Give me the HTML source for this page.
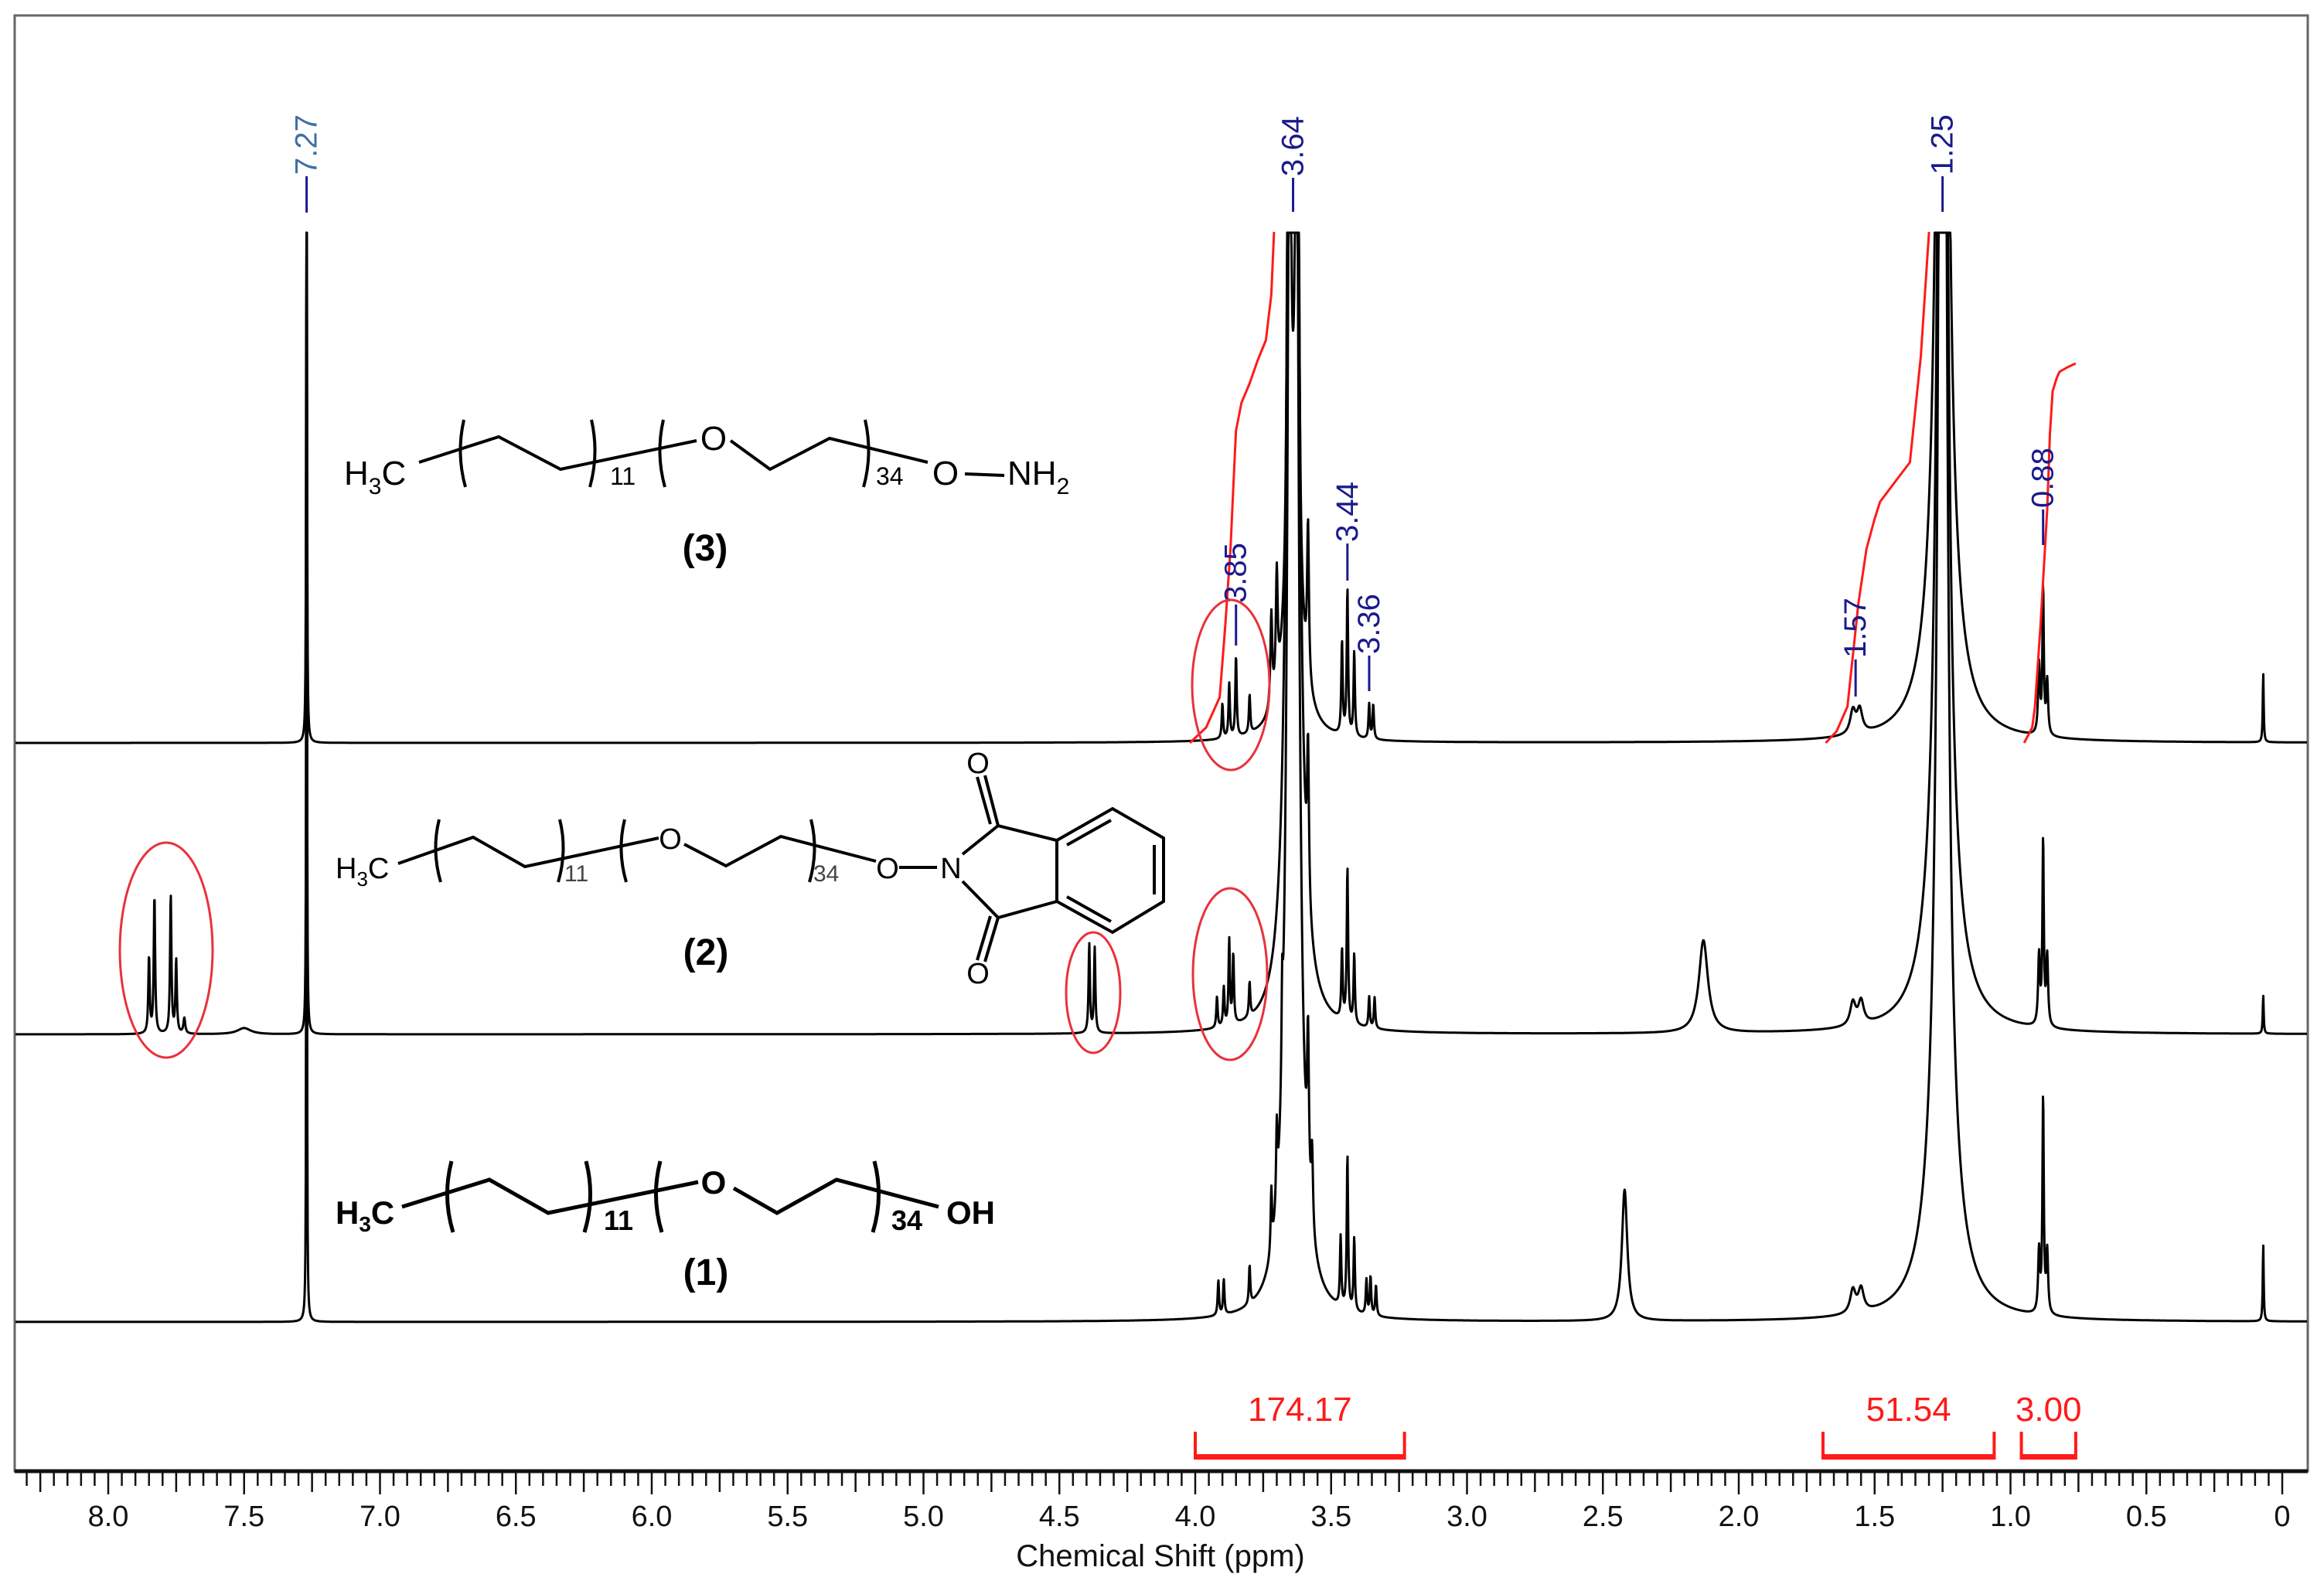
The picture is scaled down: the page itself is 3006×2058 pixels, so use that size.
<!DOCTYPE html>
<html><head><meta charset="utf-8">
<style>
html,body{margin:0;padding:0;background:#fff;}
svg{display:block;font-family:"Liberation Sans",sans-serif;}
</style></head>
<body>
<svg id="chart" xmlns="http://www.w3.org/2000/svg" width="3006" height="2058" viewBox="0 0 3006 2058">
<rect x="0" y="0" width="3006" height="2058" fill="#fff"/>
<rect x="19" y="20" width="2966" height="1883" fill="none" stroke="#666" stroke-width="3"/>
<g id="ticks"></g>
<g id="spectra"></g>
<g id="integrals"></g>
<g id="labels"></g>
<g id="brackets"></g>

<g fill="none" stroke="#e8323c" stroke-width="3">
<ellipse cx="1592" cy="886" rx="50" ry="110"/>
<ellipse cx="1591" cy="1260" rx="48" ry="111"/>
<ellipse cx="215" cy="1229" rx="60" ry="139"/>
<ellipse cx="1414" cy="1284" rx="35" ry="78"/>
</g>

<!-- structure 3 -->
<g fill="none" stroke="#000" stroke-width="4">
<polyline points="542,598 645,565 725,607 901,570"/>
<polyline points="945,570 996,607 1073,567 1200,598"/>
<line x1="1248" y1="613" x2="1299" y2="615"/>
<path d="M600,543 Q590,587 602,630"/><path d="M765,543 Q775,587 763,630"/>
<path d="M858,543 Q848,587 860,630"/><path d="M1119,543 Q1129,587 1117,630"/>
</g>
<g font-size="44" fill="#000">
<text x="445" y="627">H<tspan font-size="30" dy="12">3</tspan><tspan dy="-12">C</tspan></text>
<text x="789" y="627" font-size="32">11</text>
<text x="923" y="582" text-anchor="middle">O</text>
<text x="1133" y="627" font-size="32">34</text>
<text x="1223" y="627" text-anchor="middle">O</text>
<text x="1303" y="627">NH<tspan font-size="30" dy="12">2</tspan></text>
<text x="912" y="725" text-anchor="middle" font-weight="bold" font-size="48">(3)</text>
</g>

<!-- structure 2 -->
<g fill="none" stroke="#000" stroke-width="4">
<polyline points="515,1117 612,1083 679,1121 852,1084"/>
<polyline points="885,1092 939,1120 1010,1082 1133,1114"/>
<line x1="1163" y1="1122" x2="1212" y2="1122"/>
<polyline points="1245,1105 1291,1068 1367,1087 1367,1166 1291,1187 1245,1140"/>
<line x1="1291" y1="1068" x2="1274" y2="1003"/><line x1="1281" y1="1066" x2="1264" y2="1005"/>
<line x1="1291" y1="1187" x2="1274" y2="1244"/><line x1="1281" y1="1185" x2="1264" y2="1242"/>
<polygon points="1367,1087 1439,1046 1505,1084 1505,1166 1439,1206 1367,1166"/>
<line x1="1380" y1="1093" x2="1437" y2="1061"/><line x1="1493" y1="1093" x2="1493" y2="1157"/><line x1="1380" y1="1160" x2="1437" y2="1192"/>
<path d="M568,1060 Q558,1100 570,1141"/><path d="M724,1060 Q734,1100 722,1141"/>
<path d="M808,1060 Q798,1100 810,1141"/><path d="M1049,1060 Q1059,1100 1047,1141"/>
</g>
<g font-size="38" fill="#000">
<text x="434" y="1136">H<tspan font-size="26" dy="10">3</tspan><tspan dy="-10">C</tspan></text>
<text x="730" y="1140" font-size="30" fill="#444">11</text>
<text x="867" y="1098" text-anchor="middle">O</text>
<text x="1052" y="1140" font-size="30" fill="#444">34</text>
<text x="1148" y="1136" text-anchor="middle">O</text>
<text x="1230" y="1136" text-anchor="middle">N</text>
<text x="1265" y="1000" text-anchor="middle">O</text>
<text x="1265" y="1272" text-anchor="middle">O</text>
<text x="913" y="1248" text-anchor="middle" font-weight="bold" font-size="48">(2)</text>
</g>

<!-- structure 1 -->
<g fill="none" stroke="#000" stroke-width="5">
<polyline points="520,1561 633,1526 709,1569 903,1529"/>
<polyline points="949,1537 1005,1569 1082,1526 1214,1561"/>
<path d="M584,1502 Q572,1548 586,1594"/><path d="M758,1502 Q770,1548 756,1594"/>
<path d="M854,1502 Q842,1548 856,1594"/><path d="M1131,1502 Q1143,1548 1129,1594"/>
</g>
<g font-size="42" font-weight="bold" fill="#000">
<text x="434" y="1583">H<tspan font-size="28" dy="10">3</tspan><tspan dy="-10">C</tspan></text>
<text x="781" y="1591" font-size="36">11</text>
<text x="923" y="1544" text-anchor="middle">O</text>
<text x="1153" y="1591" font-size="36">34</text>
<text x="1224" y="1583">OH</text>
<text x="913" y="1662" text-anchor="middle" font-size="48">(1)</text>
</g>

<text x="1501" y="2026" text-anchor="middle" font-size="40" fill="#111">Chemical Shift (ppm)</text>

<script>
// ---- data ----
const tickLabels = ["8.0","7.5","7.0","6.5","6.0","5.5","5.0","4.5","4.0","3.5","3.0","2.5","2.0","1.5","1.0","0.5","0"];
const tickValues = [8.0,7.5,7.0,6.5,6.0,5.5,5.0,4.5,4.0,3.5,3.0,2.5,2.0,1.5,1.0,0.5,0];

const s1Ppm = [7.27,3.915,3.895,3.80,3.72,3.70,3.68,3.64,3.585,3.57,3.465,3.44,3.415,3.37,3.355,3.335,2.42,1.58,1.55,1.25,1.25,0.895,0.88,0.865,0.07];
const s1Int = [3000,45,45,50,80,100,120,5000,200,100,90,200,95,45,50,40,170,30,30,3000,300,80,280,80,100];
const s1Wid = [0.0008,0.003,0.003,0.003,0.003,0.003,0.003,0.011,0.004,0.004,0.003,0.003,0.003,0.003,0.003,0.003,0.012,0.012,0.012,0.012,0.05,0.004,0.003,0.004,0.002];

const s2Ppm = [7.85,7.83,7.77,7.75,7.72,7.5,7.27,4.39,4.37,3.92,3.895,3.875,3.86,3.80,3.64,3.585,3.46,3.44,3.415,3.36,3.34,2.13,1.58,1.55,1.25,1.25,0.895,0.88,0.865,0.07];
const s2Int = [100,180,180,95,20,8,3000,115,110,40,50,110,90,45,5000,200,90,200,90,40,40,120,30,30,3000,300,90,240,90,50];
const s2Wid = [0.003,0.003,0.003,0.003,0.004,0.03,0.0008,0.003,0.003,0.003,0.003,0.003,0.003,0.003,0.011,0.004,0.003,0.003,0.003,0.003,0.003,0.02,0.012,0.012,0.012,0.05,0.004,0.003,0.004,0.002];

const s3Ppm = [7.27,3.90,3.875,3.85,3.80,3.72,3.70,3.655,3.625,3.64,3.585,3.46,3.44,3.415,3.36,3.345,1.58,1.555,1.25,1.25,0.895,0.88,0.865,0.07];
const s3Int = [3000,45,70,105,50,120,150,3000,3000,300,200,120,190,110,45,45,30,30,3000,300,90,190,70,90];
const s3Wid = [0.0008,0.003,0.003,0.003,0.003,0.004,0.004,0.003,0.003,0.03,0.004,0.003,0.003,0.003,0.003,0.003,0.012,0.012,0.012,0.05,0.004,0.003,0.004,0.002];

const int1Ppm = [4.02,3.96,3.91,3.89,3.87,3.86,3.85,3.83,3.80,3.77,3.74,3.72,3.71];
const int1Val = [0,20,59,150,253,330,404,440,465,495,521,580,661];
const int2Ppm = [1.68,1.64,1.60,1.56,1.53,1.50,1.48,1.42,1.37,1.33,1.30];
const int2Val = [0,15,47,180,251,290,312,340,363,500,661];
const int3Ppm = [0.95,0.92,0.91,0.89,0.875,0.865,0.855,0.845,0.83,0.82,0.79,0.76];
const int3Val = [0,20,47,150,240,302,400,455,472,480,486,491];

const bracketStart = [4.00,1.69,0.96];
const bracketEnd = [3.23,1.06,0.76];
const bracketLabels = ["174.17","51.54","3.00"];

const peakLabelPpm = [7.27,3.64,1.25,3.85,3.44,3.36,1.57,0.88];
const peakLabelText = ["7.27","3.64","1.25","3.85","3.44","3.36","1.57","0.88"];

// ---- axis / layout ----
const X0 = 2952, PX = 351.5;
const x = p => X0 - PX * p;
const TOP = 301, AXIS_Y = 1903;
const NS = "http://www.w3.org/2000/svg";
function mk(tag, attrs, parent){ const e = document.createElementNS(NS, tag); for (const k in attrs) e.setAttribute(k, attrs[k]); parent.appendChild(e); return e; }

const tg = document.getElementById('ticks');
const axl = mk('line', {x1:19, y1:AXIS_Y, x2:2985, y2:AXIS_Y, stroke:'#111', 'stroke-width':5}, tg);


for (let k = 0; k <= 166; k++) {
  const p = k * 0.05;
  const xx = x(p);
  if (xx < 20) continue;
  const len = (k % 10 === 0) ? 30 : (k % 5 === 0 ? 27 : 19);
  const t = mk('line', {x1:xx, y1:AXIS_Y, x2:xx, y2:AXIS_Y + len, stroke:'#111', 'stroke-width':2.5}, tg);
  
  
}
tickValues.forEach((v, i) => {
  const t = mk('text', {x:x(v), y:1974, 'text-anchor':'middle', 'font-size':38, fill:'#111'}, tg);
  t.textContent = tickLabels[i];
  
  
});

function spectrumPath(ppm, inten, wid, base){
  let d = '';
  for (let xx = 20; xx <= 2984; xx += 0.5) {
    const p = (X0 - xx) / PX;
    let I = 0;
    for (let i = 0; i < ppm.length; i++) { const dd = p - ppm[i]; const w = wid[i]; I += inten[i] * w * w / (dd * dd + w * w); }
    let y = base - I;
    if (y < TOP) y = TOP;
    d += (d ? 'L' : 'M') + xx.toFixed(1) + ',' + y.toFixed(1);
  }
  return d;
}
const sg = document.getElementById('spectra');
[[s1Ppm,s1Int,s1Wid,1710,'spectrum-1'],[s2Ppm,s2Int,s2Wid,1338,'spectrum-2'],[s3Ppm,s3Int,s3Wid,961,'spectrum-3']].forEach(s => {
  const p = mk('path', {d:spectrumPath(s[0],s[1],s[2],s[3]), fill:'none', stroke:'#000', 'stroke-width':3, 'stroke-linejoin':'round'}, sg);
  
  
});

const ig = document.getElementById('integrals');
[[int1Ppm,int1Val,'integral-curve-1'],[int2Ppm,int2Val,'integral-curve-2'],[int3Ppm,int3Val,'integral-curve-3']].forEach(c => {
  const pts = c[0].map((p, i) => x(p).toFixed(1) + ',' + (961 - c[1][i]).toFixed(1)).join(' ');
  const pl = mk('polyline', {points:pts, fill:'none', stroke:'#ff1a1a', 'stroke-width':3, 'stroke-linejoin':'round'}, ig);
  
  
});

const bg = document.getElementById('brackets');
bracketStart.forEach((s, i) => {
  const a = x(s), b = x(bracketEnd[i]);
  const p = mk('path', {d:`M${a},1852 L${a},1886 L${b},1886 L${b},1852 M${a},1883 L${b},1883`, fill:'none', stroke:'#ff1a1a', 'stroke-width':4}, bg);
  
  
  const t = mk('text', {x:(a + b) / 2, y:1838, 'text-anchor':'middle', 'font-size':44, fill:'#ff1a1a'}, bg);
  t.textContent = bracketLabels[i];
  
  
});

const labelLineBottom = [275,274,274,835,751,894,901,705];
const labelLineTop = [228,230,228,782,703,848,853,659];
const lg = document.getElementById('labels');
peakLabelPpm.forEach((p, i) => {
  const xx = x(p);
  const col = i === 0 ? '#3f6fa6' : '#1a1a8c';
  const l = mk('line', {x1:xx, y1:labelLineBottom[i], x2:xx, y2:labelLineTop[i], stroke:'#1a1a8c', 'stroke-width':3}, lg);
  
  
  const ty = labelLineTop[i] - 2;
  const t = mk('text', {x:xx, y:ty, 'font-size':40, fill:col, 'dominant-baseline':'central', transform:`rotate(-90 ${xx} ${ty})`}, lg);
  t.textContent = peakLabelText[i];
  
  
});
</script>
</svg>
</body></html>
